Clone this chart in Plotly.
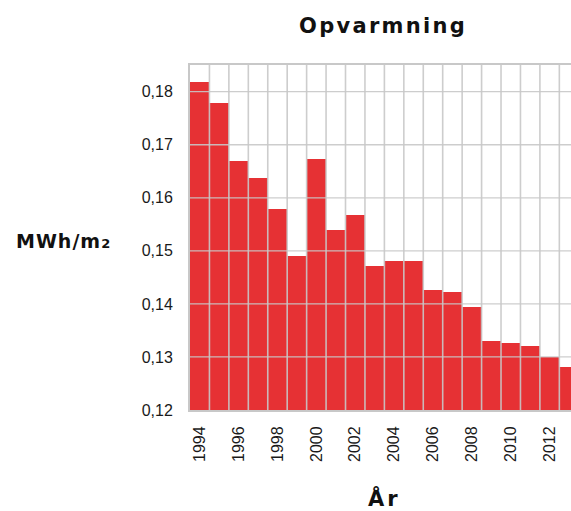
import plotly.graph_objects as go

years = list(range(1994, 2014))
values = [0.1819, 0.1778, 0.1669, 0.1637, 0.1578, 0.1491, 0.1674, 0.1540, 0.1567, 0.1471,
          0.1480, 0.1480, 0.1427, 0.1422, 0.1395, 0.1331, 0.1326, 0.1320, 0.1299, 0.1282]
x_tick_vals = list(range(1994, 2013, 2))
x_tick_text = [str(v) for v in x_tick_vals]
y_tick_vals = [0.12, 0.13, 0.14, 0.15, 0.16, 0.17, 0.18]
y_tick_text = ["0,12", "0,13", "0,14", "0,15", "0,16", "0,17", "0,18"]

W, H = 571, 511
L, R, T, B = 190, 0, 65, 101
PW, PH = W - L - R, H - T - B

def px_x(p):
    return (p - L) / PW

def px_y(p):
    return (H - B - p) / PH

FONT = "Liberation Sans, Arial, sans-serif"
TFONT = "DejaVu Sans, Liberation Sans, sans-serif"
GRID = "rgba(200,200,200,0.9)"
RED = "#e63134"

fig = go.Figure()
fig.add_trace(go.Bar(x=years, y=values, marker=dict(color=RED, line=dict(width=0))))

shapes = []
for yv in years:
    shapes.append(dict(type="line", xref="x", yref="paper", x0=yv + 0.5, x1=yv + 0.5, y0=0, y1=1,
                       line=dict(color=GRID, width=1.6), layer="above"))
for tv in y_tick_vals[1:]:
    shapes.append(dict(type="line", xref="paper", yref="y", x0=0, x1=1, y0=tv, y1=tv,
                       line=dict(color=GRID, width=1.3), layer="above"))

annotations = [
    dict(text='<span style="letter-spacing:2.3px">Opvarmning</span>', xref="paper", yref="paper",
         x=px_x(383), y=px_y(26), xanchor="center", yanchor="middle", showarrow=False,
         font=dict(family=TFONT, size=21, color="#111111", weight="bold")),
    dict(text='<span style="letter-spacing:1px">MWh/m<span style="font-size:13px">2</span></span>',
         xref="paper", yref="paper",
         x=px_x(14), y=px_y(241), xanchor="left", yanchor="middle", showarrow=False,
         font=dict(family=TFONT, size=19, color="#111111", weight="bold")),
    dict(text='<span style="letter-spacing:3px">År</span>', xref="paper", yref="paper",
         x=px_x(384), y=px_y(498), xanchor="center", yanchor="middle", showarrow=False,
         font=dict(family=TFONT, size=21, color="#111111", weight="bold")),
]

fig.update_layout(
    width=W, height=H,
    margin=dict(l=L, r=R, t=T, b=B, pad=0),
    paper_bgcolor="white", plot_bgcolor="white",
    bargap=0, showlegend=False,
    shapes=shapes, annotations=annotations,
    xaxis=dict(range=[1993.5, 2013.1], tickmode="array", tickvals=x_tick_vals, ticktext=x_tick_text,
               tickangle=-90, showgrid=False, zeroline=False,
               showline=True, mirror=True, linecolor="#c8c8c8", linewidth=2,
               ticks="outside", ticklen=8, tickcolor="rgba(0,0,0,0)",
               tickfont=dict(family=FONT, size=16, color="#1a1a1a")),
    yaxis=dict(range=[0.12, 0.18503], tickmode="array", tickvals=y_tick_vals, ticktext=y_tick_text,
               showgrid=False, zeroline=False,
               showline=True, mirror=False, linecolor="#c8c8c8", linewidth=2,
               ticks="outside", ticklen=12, tickcolor="rgba(0,0,0,0)",
               tickfont=dict(family=FONT, size=16, color="#1a1a1a")),
)

fig.write_html("out.html")
